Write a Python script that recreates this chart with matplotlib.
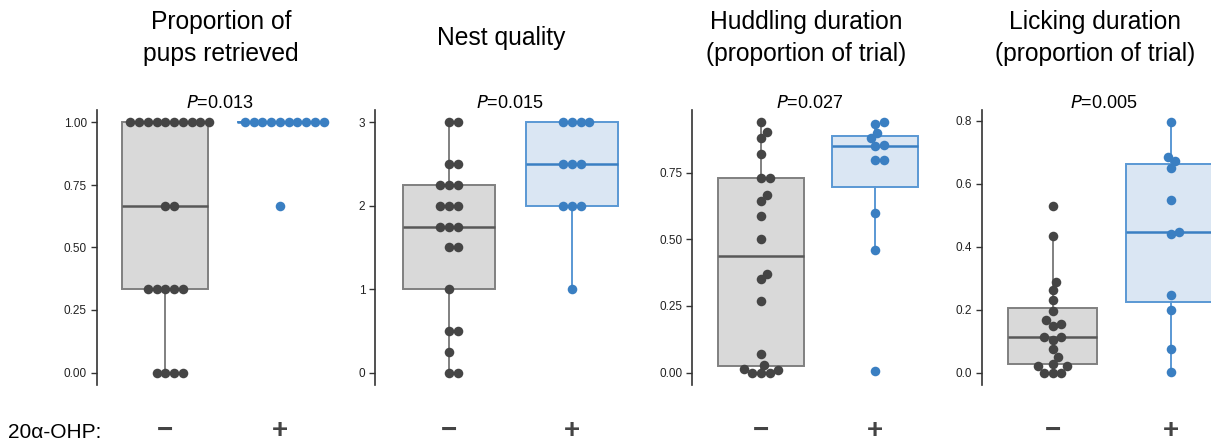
import matplotlib
matplotlib.use("Agg")
import matplotlib.pyplot as plt
import matplotlib.transforms as mtransforms
import numpy as np
import pandas as pd
import seaborn as sns

plt.rcParams['font.family'] = ['Liberation Sans', 'DejaVu Sans']

# ---------------- data ----------------
groups = ["\u2212", "+"]
group_label = "20\u03b1-OHP:"

titles = ["Proportion of\npups retrieved", "Nest quality",
          "Huddling duration\n(proportion of trial)", "Licking duration\n(proportion of trial)"]
pvalues = ["0.013", "0.015", "0.027", "0.005"]

pups_minus = [1, 1, 1, 1, 1, 1, 1, 1, 1, 1, 0.667, 0.667,
              0.333, 0.333, 0.333, 0.333, 0.333, 0, 0, 0, 0]
pups_plus = [1, 1, 1, 1, 1, 1, 1, 1, 1, 1, 0.667]

nest_minus = [3, 3, 2.5, 2.5, 2.25, 2.25, 2.25, 2, 2, 2, 1.75, 1.75, 1.75,
              1.5, 1.5, 1, 0.5, 0.5, 0.25, 0, 0]
nest_plus = [3, 3, 3, 3, 2.5, 2.5, 2.5, 2, 2, 2, 1]

hud_minus = [0.938, 0.903, 0.881, 0.821, 0.731, 0.731, 0.666, 0.643, 0.589, 0.502,
             0.370, 0.349, 0.267, 0.070, 0.029, 0.012, 0.010, 0.0, 0.0, 0.0]
hud_plus = [0.938, 0.931, 0.900, 0.878, 0.853, 0.850, 0.797, 0.796, 0.599, 0.459, 0.004]

lick_minus = [0.529, 0.434, 0.287, 0.263, 0.229, 0.196, 0.167, 0.153, 0.149, 0.112,
              0.112, 0.102, 0.075, 0.048, 0.028, 0.021, 0.021, 0.0, 0.0, 0.0]
lick_plus = [0.795, 0.686, 0.673, 0.651, 0.548, 0.446, 0.439, 0.247, 0.199, 0.074, 0.003]

yticks = [[0, 0.25, 0.5, 0.75, 1.0], [0, 1, 2, 3], [0, 0.25, 0.5, 0.75],
          [0, 0.2, 0.4, 0.6, 0.8]]
ytick_fmt = ["{:.2f}", "{:.0f}", "{:.2f}", "{:.1f}"]

panels = [(pups_minus, pups_plus), (nest_minus, nest_plus),
          (hud_minus, hud_plus), (lick_minus, lick_plus)]

# ---------------- layout (pixels) ----------------
W, H = 1211, 444
fig = plt.figure(figsize=(W / 100, H / 100), dpi=100)

spine_x = [96.7, 375.0, 692.3, 981.7]
spacing = [114.5, 123.0, 114.2, 118.0]
title_x = [221, 501, 806, 1095]
p_x = [220, 510, 810, 1104]
ytop, ybot = 110, 385
xlo, xhi = -0.6, 1.6

dot_col = ["#454545", "#3a7fc2"]
box_face = ["#d9d9d9", "#dae6f3"]
box_edge = ["#808080", "#5a98d4"]
med_col = ["#585858", "#3a7fc2"]

axes = []
for i, (mvals, pvals) in enumerate(panels):
    wpx = (xhi - xlo) * spacing[i]
    ax = fig.add_axes([spine_x[i] / W, (H - ybot) / H, wpx / W, (ybot - ytop) / H])
    axes.append(ax)
    data = [mvals, pvals]
    for g in range(2):
        bp = ax.boxplot([data[g]], positions=[g], widths=0.75, whis=1.5,
                        showfliers=False, showcaps=False, patch_artist=True,
                        manage_ticks=False, zorder=1)
        for b in bp['boxes']:
            b.set_facecolor(box_face[g])
            b.set_edgecolor(box_edge[g])
            b.set_linewidth(1.4)
        for w in bp['whiskers']:
            w.set_color(box_edge[g])
            w.set_linewidth(1.4)
        for m in bp['medians']:
            m.set_color(med_col[g])
            m.set_linewidth(1.8)
    df = pd.DataFrame({"grp": [groups[0]] * len(mvals) + [groups[1]] * len(pvals),
                       "val": list(mvals) + list(pvals)})
    sns.swarmplot(data=df, x="grp", y="val", order=groups, hue="grp",
                  palette={groups[0]: dot_col[0], groups[1]: dot_col[1]},
                  size=6.0, ax=ax, zorder=3, legend=False, linewidth=0)
    ax.set_xlim(xlo, xhi)
    allv = list(mvals) + list(pvals)
    lo, hi = min(allv), max(allv)
    pad = 0.05 * (hi - lo)
    ax.set_ylim(lo - pad, hi + pad)
    ax.set_yticks(yticks[i])
    ax.set_yticklabels([ytick_fmt[i].format(v) for v in yticks[i]])
    ax.set_xticks([])
    ax.set_xlabel("")
    ax.set_ylabel("")
    for s in ["top", "right", "bottom"]:
        ax.spines[s].set_visible(False)
    ax.spines["left"].set_color("#333333")
    ax.spines["left"].set_linewidth(1.2)
    ax.tick_params(axis="y", length=4, width=1.0, color="#333333",
                   labelsize=8.5, pad=3, labelcolor="#222222")
    ax.patch.set_alpha(0)

    fig.text(title_x[i] / W, 1 - 38 / H, titles[i], ha="center", va="center",
             fontsize=17.7, linespacing=1.42)
    fig.text(p_x[i] / W, 1 - 103 / H, r"$\it{P}$" + "=" + pvalues[i],
             ha="center", va="center", fontsize=13)
    tr = mtransforms.blended_transform_factory(ax.transData, fig.transFigure)
    for g in range(2):
        ax.text(g, 1 - 431 / H, groups[g], transform=tr, ha="center", va="center",
                fontsize=20, fontweight="bold", color="#444444", clip_on=False)

fig.text(8 / W, 1 - 432 / H, group_label, ha="left", va="center", fontsize=15)

# compute swarm layout, then redraw dots slightly larger (overlapping like the original)
fig.canvas.draw()
for ax in axes:
    colls = [c for c in ax.collections if c.get_offsets().shape[0] > 0]
    for g, c in enumerate(colls):
        offs = np.asarray(c.get_offsets())
        col = c.get_facecolor()[0]
        c.remove()
        xs = 2 * g - offs[:, 0]
        ax.scatter(xs, offs[:, 1], s=6.9 ** 2, color=col, linewidths=0, zorder=3)

fig.savefig("out.png", dpi=100)
